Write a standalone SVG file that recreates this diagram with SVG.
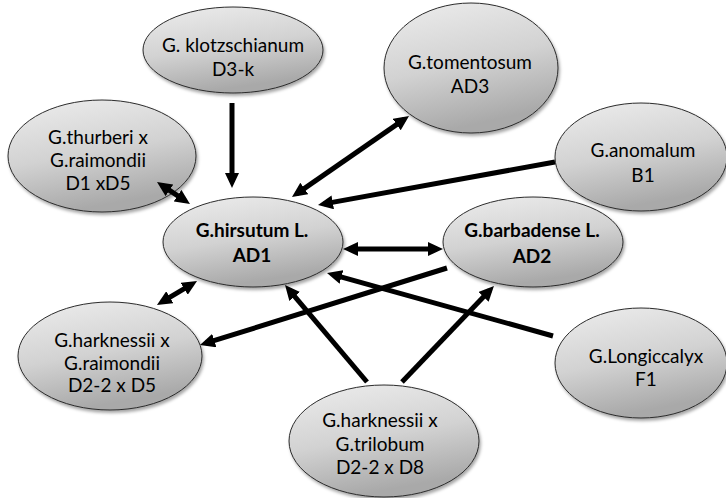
<svg xmlns="http://www.w3.org/2000/svg" width="726" height="498" viewBox="0 0 726 498">
<defs>
<linearGradient id="g" x1="0" y1="0" x2="0.3" y2="1">
<stop offset="0" stop-color="#ededed"/>
<stop offset="0.55" stop-color="#d2d2d2"/>
<stop offset="1" stop-color="#a9a9a9"/>
</linearGradient>
<filter id="sh" x="-10%" y="-10%" width="125%" height="130%">
<feDropShadow dx="1.5" dy="2.5" stdDeviation="1.8" flood-color="#000" flood-opacity="0.35"/>
</filter>
<marker id="ah" markerUnits="userSpaceOnUse" markerWidth="15" markerHeight="14" viewBox="0 0 15 14" refX="9" refY="7" orient="auto-start-reverse">
<path d="M0,0 L15,7 L0,14 z" fill="#000"/>
</marker>
</defs>
<style>
.n ellipse{fill:url(#g);stroke:#2b2b2b;stroke-width:1;filter:url(#sh)}
.n text{font-family:Lato,"Liberation Sans",sans-serif;font-size:19px;fill:#000;text-anchor:middle}
.b text{font-weight:bold}
#edges line{stroke:#000;stroke-width:5;fill:none}
.e1{marker-end:url(#ah)}
.e2{marker-start:url(#ah);marker-end:url(#ah)}
</style>
<rect width="726" height="498" fill="#fff"/>
<g id="klotzschianum" class="n">
<ellipse cx="233" cy="50" rx="90" ry="43"/>
<text x="233" y="52">G. klotzschianum</text>
<text x="233" y="76">D3-k</text>
</g>
<g id="tomentosum" class="n">
<ellipse cx="471" cy="68" rx="87" ry="65"/>
<text x="470" y="69">G.tomentosum</text>
<text x="470" y="93">AD3</text>
</g>
<g id="thurberi" class="n">
<ellipse cx="102" cy="156" rx="94" ry="56"/>
<text x="98" y="144">G.thurberi x</text>
<text x="98" y="167">G.raimondii</text>
<text x="98" y="190">D1 xD5</text>
</g>
<g id="anomalum" class="n">
<ellipse cx="641" cy="157" rx="86" ry="54"/>
<text x="643" y="157">G.anomalum</text>
<text x="643" y="182">B1</text>
</g>
<g id="hirsutum" class="n b">
<ellipse cx="253" cy="242" rx="90" ry="45"/>
<text x="252" y="237">G.hirsutum L.</text>
<text x="252" y="262">AD1</text>
</g>
<g id="barbadense" class="n b">
<ellipse cx="533" cy="242" rx="90" ry="45"/>
<text x="532" y="237">G.barbadense L.</text>
<text x="532" y="263">AD2</text>
</g>
<g id="harknessii-raimondii" class="n">
<ellipse cx="110" cy="356" rx="92" ry="54"/>
<text x="112" y="347">G.harknessii x</text>
<text x="112" y="370">G.raimondii</text>
<text x="112" y="392">D2-2 x D5</text>
</g>
<g id="longiccalyx" class="n">
<ellipse cx="641" cy="363" rx="86" ry="55"/>
<text x="646" y="363">G.Longiccalyx</text>
<text x="646" y="386">F1</text>
</g>
<g id="harknessii-trilobum" class="n">
<ellipse cx="384" cy="441" rx="95" ry="56"/>
<text x="380" y="427">G.harknessii x</text>
<text x="380" y="451">G.trilobum</text>
<text x="380" y="474">D2-2 x D8</text>
</g>
<g id="edges">
<line class="e1" x1="232" y1="103" x2="232" y2="182"/>
<line class="e2" x1="296.9" y1="193.6" x2="404.1" y2="119.4"/>
<line class="e1" x1="555" y1="162" x2="323.9" y2="203.9"/>
<line class="e2" x1="162" y1="185.3" x2="185" y2="200.7"/>
<line class="e2" x1="349" y1="249" x2="437" y2="249"/>
<line class="e2" x1="162.1" y1="301.9" x2="191.9" y2="284.1"/>
<line class="e1" x1="447" y1="268" x2="205.7" y2="343.2"/>
<line class="e1" x1="553" y1="336" x2="332.8" y2="274.6"/>
<line class="e1" x1="367" y1="382" x2="288.9" y2="289.6"/>
<line class="e1" x1="402" y1="382" x2="489.8" y2="290.3"/>
</g>
</svg>
